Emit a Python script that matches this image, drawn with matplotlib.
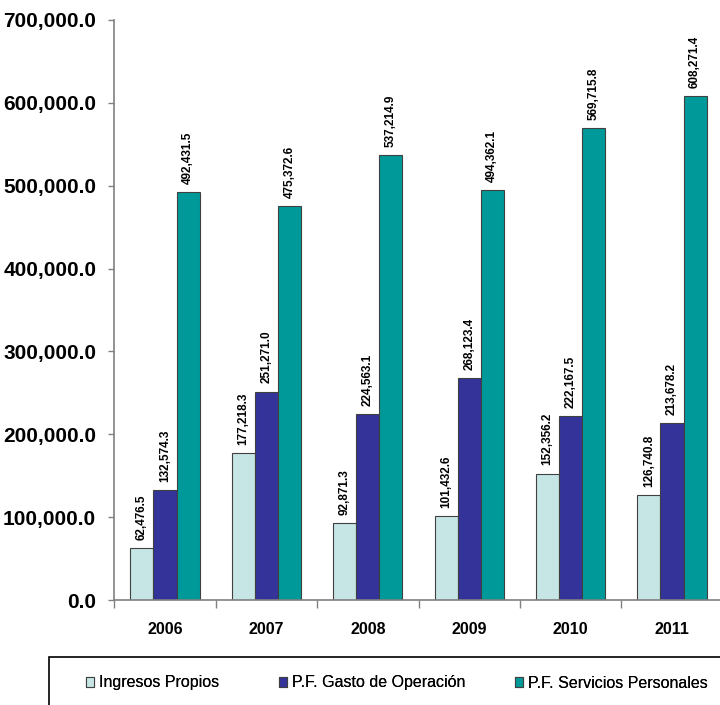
import matplotlib
matplotlib.use("Agg")
import matplotlib.pyplot as plt
from matplotlib.ticker import FuncFormatter, FixedLocator
from matplotlib.patches import Rectangle
import numpy as np

years = ["2006", "2007", "2008", "2009", "2010", "2011"]
series_names = ["Ingresos Propios", "P.F. Gasto de Operación", "P.F. Servicios Personales"]
ingresos = [62476.5, 177218.3, 92871.3, 101432.6, 152356.2, 126740.8]
gasto = [132574.3, 251271.0, 224563.1, 268123.4, 222167.5, 213678.2]
servicios = [492431.5, 475372.6, 537214.9, 494362.1, 569715.8, 608271.4]
colors = ["#C6E6E6", "#333399", "#009999"]

W, H = 720, 705
fig = plt.figure(figsize=(W / 100, H / 100), dpi=100)
ax = fig.add_axes([114.3 / W, 1 - 600 / H, (722.7 - 114.3) / W, (600 - 20) / H])

x = np.arange(len(years))
bw = 0.228
handles = []
for i, (vals, c) in enumerate(zip([ingresos, gasto, servicios], colors)):
    pos = x + (i - 1) * bw
    b = ax.bar(pos, vals, width=bw, color=c, edgecolor="#404040", linewidth=0.8,
               label=series_names[i], zorder=2)
    handles.append(b)
    for px, v in zip(pos, vals):
        ax.annotate(f"{v:,.1f}", (px, v), xytext=(0, 6), textcoords="offset points",
                    rotation=90, ha="center", va="bottom", fontsize=8.5,
                    fontweight="bold", family="Liberation Sans",
                    bbox=dict(boxstyle="square,pad=0.1", fc="white", ec="none"),
                    zorder=3)

ax.set_xlim(-0.5, len(years) - 0.5)
ax.set_ylim(0, 700000)
ax.yaxis.set_major_locator(FixedLocator(np.arange(0, 700001, 100000)))
ax.yaxis.set_major_formatter(FuncFormatter(lambda v, p: f"{v:,.1f}"))
ax.tick_params(axis="y", length=4, width=1, color="#808080", pad=9, labelsize=15)
for t in ax.yaxis.get_ticklabels():
    t.set_fontweight("bold")
    t.set_family("Liberation Sans")

ax.set_xticks(x)
ax.set_xticklabels(years, fontsize=11.5, fontweight="bold", family="Liberation Sans")
ax.set_xticks(np.arange(-0.5, len(years), 1.0), minor=True)
ax.tick_params(axis="x", which="major", length=0, pad=16)
ax.tick_params(axis="x", which="minor", length=6, width=1, color="#808080")

for s in ["top", "right"]:
    ax.spines[s].set_visible(False)
for s in ["left", "bottom"]:
    ax.spines[s].set_color("#808080")
    ax.spines[s].set_linewidth(1.2)

# legend box
fig.patches.append(Rectangle((49 / W, -0.01), (W - 49) / W + 0.02, (705 - 657) / H + 0.01,
                             transform=fig.transFigure, fill=False, ec="black", lw=1.2))
leg_x = [86, 279, 515]
for hnd, lab, lx in zip(handles, series_names, leg_x):
    lg = fig.legend([hnd], [lab], loc="center left", bbox_to_anchor=(lx / W, 1 - 683 / H),
                    frameon=False, borderpad=0, borderaxespad=0,
                    handlelength=0.5, handleheight=0.6, handletextpad=0.3,
                    prop={"family": "Liberation Sans", "size": 11.5})
    fig.add_artist(lg)

fig.savefig("out.png", dpi=100)
